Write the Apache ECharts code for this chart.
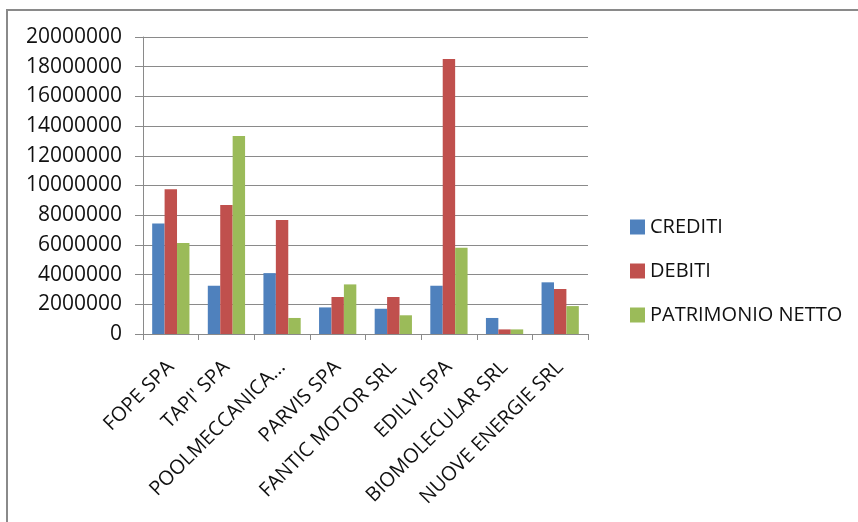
<!DOCTYPE html>
<html>
<head>
<meta charset="utf-8">
<script src="https://cdn.jsdelivr.net/npm/echarts@6/dist/echarts.min.js"></script>
<style>html,body{margin:0;padding:0;background:#fff}#c{width:858px;height:522px}</style>
</head>
<body>
<div id="c"></div>
<script>
const categories = ["FOPE SPA", "TAPI' SPA", "POOLMECCANICA...", "PARVIS SPA", "FANTIC MOTOR SRL", "EDILVI SPA", "BIOMOLECULAR SRL", "NUOVE ENERGIE SRL"];
const crediti = [7440000, 3250000, 4100000, 1790000, 1700000, 3250000, 1080000, 3480000];
const debiti = [9750000, 8680000, 7670000, 2490000, 2490000, 18520000, 310000, 3030000];
const patrimonioNetto = [6120000, 13340000, 1080000, 3340000, 1260000, 5810000, 310000, 1880000];
const seriesNames = ["CREDITI", "DEBITI", "PATRIMONIO NETTO"];
const colors = ["#4F81BD", "#C0504D", "#9BBB59"];

const chart = echarts.init(document.getElementById('c'), null, {renderer: 'canvas'});
const font = "'Open Sans', 'Liberation Sans', sans-serif";
const mk = (name, data, i) => ({
  name, type: 'bar', data, barGap: '0%', barCategoryGap: '33%',
  itemStyle: {color: colors[i]}, animation: false
});
chart.setOption({
  animation: false,
  graphic: [{
    type: 'rect', shape: {x: 7, y: 10, width: 900, height: 600},
    style: {fill: null, stroke: '#8a8a8a', lineWidth: 2}, silent: true
  }],
  grid: {left: 143, right: 270, top: 37, bottom: 188},
  legend: {
    orient: 'vertical', left: 625, top: 212, itemGap: 24,
    itemWidth: 15, itemHeight: 15, icon: 'rect',
    textStyle: {fontFamily: font, fontSize: 20, color: '#111'},
    data: seriesNames
  },
  xAxis: {
    type: 'category', data: categories,
    axisLine: {lineStyle: {color: '#8a8a8a', width: 1}},
    axisTick: {show: true, length: 6, alignWithLabel: false, lineStyle: {color: '#8a8a8a'}},
    axisLabel: {rotate: 45, interval: 0, margin: 30, fontFamily: font, fontSize: 20, color: '#111'}
  },
  yAxis: {
    type: 'value', min: 0, max: 20000000, interval: 2000000,
    axisLine: {show: true, lineStyle: {color: '#8a8a8a', width: 1}},
    axisTick: {show: true, length: 8, lineStyle: {color: '#8a8a8a'}},
    splitLine: {lineStyle: {color: '#8a8a8a', width: 1}},
    axisLabel: {margin: 21, fontFamily: font, fontSize: 21, color: '#111',
      formatter: v => String(v)}
  },
  series: [mk(seriesNames[0], crediti, 0), mk(seriesNames[1], debiti, 1), mk(seriesNames[2], patrimonioNetto, 2)]
});
</script>
</body>
</html>
